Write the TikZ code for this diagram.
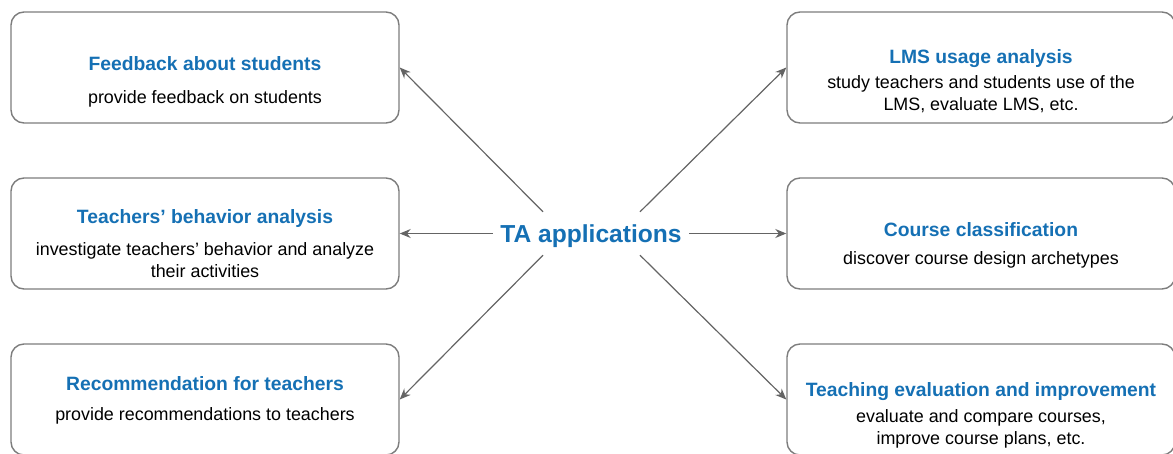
\documentclass[tikz,border=0pt]{standalone}
\usepackage{fontspec}
\setmainfont{Liberation Sans}
\usetikzlibrary{positioning,arrows.meta}
\definecolor{tablue}{RGB}{21,112,180}
\definecolor{boxgray}{RGB}{125,125,125}
\definecolor{arrgray}{RGB}{100,100,100}
\tikzset{
  appbox/.style={draw=boxgray,line width=1.4pt,rounded corners=13pt,minimum width=388pt,minimum height=111pt},
  apptitle/.style={anchor=base,text=tablue,font=\fontsize{19.3}{23}\selectfont\bfseries,inner sep=0pt},
  appdesc/.style={anchor=base,align=center,font=\fontsize{17.9}{22}\selectfont,inner sep=0pt},
  apparrow/.style={draw=arrgray,line width=1.2pt,-{Stealth[length=11pt,width=9pt]}}
}
\begin{document}
\begin{tikzpicture}[x=1pt,y=-1pt]
  \useasboundingbox (0,0) rectangle (1173,453);
  % boxes
  \node[appbox] (fb) at (205,67.5) {};
  \node[appbox] (tb) at (205,233.5) {};
  \node[appbox] (rt) at (205,399.5) {};
  \node[appbox] (lms) at (981,67.5) {};
  \node[appbox] (cc) at (981,233.5) {};
  \node[appbox] (te) at (981,399.5) {};
  % texts (base = last line)
  \node[apptitle] (fbt) at (205,70) {Feedback about students};
  \node[appdesc] at (205,103) {provide feedback on students};
  \node[apptitle] (tbt) at (205,223) {Teachers’ behavior analysis};
  \node[appdesc] at (205,277) {investigate teachers’ behavior and analyze\\their activities};
  \node[apptitle] (rtt) at (205,390) {Recommendation for teachers};
  \node[appdesc] at (205,420) {provide recommendations to teachers};
  \node[apptitle] (lmst) at (981,63) {LMS usage analysis};
  \node[appdesc] at (981,110) {study teachers and students use of the\\LMS, evaluate LMS, etc.};
  \node[apptitle] (cct) at (981,236) {Course classification};
  \node[appdesc] at (981,264) {discover course design archetypes};
  \node[apptitle] (tet) at (981,396) {Teaching evaluation and improvement};
  \node[appdesc] at (981,444) {evaluate and compare courses,\\improve course plans, etc.};
  % centre
  \node[text=tablue,font=\fontsize{24.6}{30}\selectfont\bfseries,text depth=0pt,minimum width=196pt,minimum height=43pt,inner sep=0pt] (ta) at (591,233.5) {TA applications};

  \draw[apparrow] ([xshift=-48pt]ta.north) -- (fb.east);
  \draw[apparrow] (ta.west) -- (tb.east);
  \draw[apparrow] ([xshift=-48pt]ta.south) -- (rt.east);
  \draw[apparrow] ([xshift=49pt]ta.north) -- (lms.west);
  \draw[apparrow] (ta.east) -- (cc.west);
  \draw[apparrow] ([xshift=49pt]ta.south) -- (te.west);
\end{tikzpicture}
\end{document}
